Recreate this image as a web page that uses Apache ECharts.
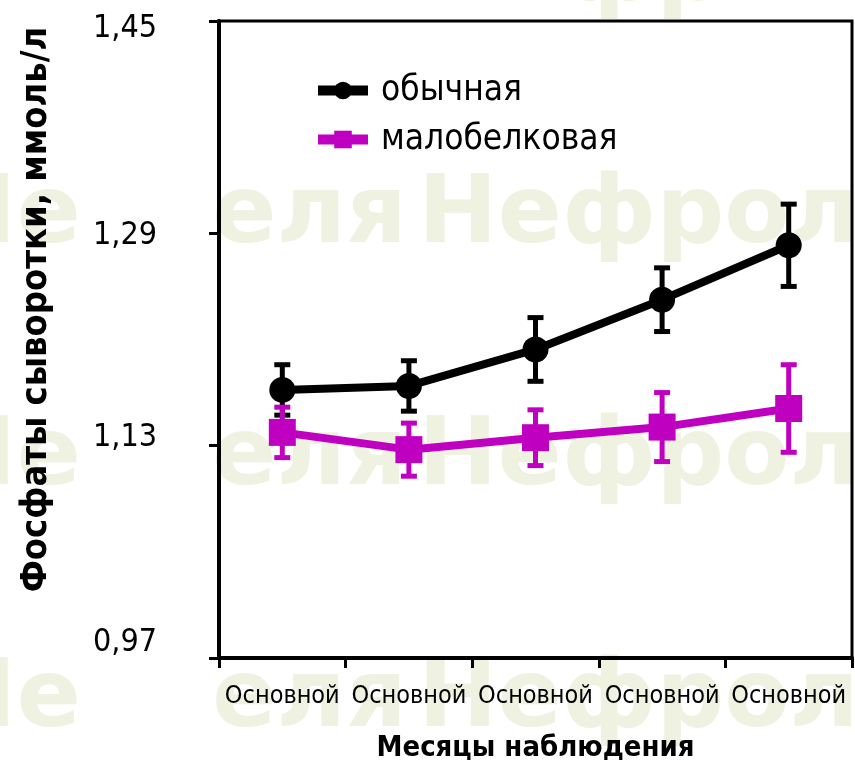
<!DOCTYPE html>
<html>
<head>
<meta charset="utf-8">
<script src="https://cdn.jsdelivr.net/npm/echarts@6/dist/echarts.min.js"></script>
<style>
html,body{margin:0;padding:0;background:#fff;}
#chart{width:855px;height:761px;}
</style>
</head>
<body>
<div id="chart"></div>
<script>
// ---- data ----
var categories = ['Основной', 'Основной', 'Основной', 'Основной', 'Основной'];
var seriesNames = ['обычная', 'малобелковая'];
var ordinaryMean = [1.172, 1.175, 1.2025, 1.240, 1.281];
var ordinaryErr  = [0.019, 0.019, 0.024, 0.024, 0.031];
var lowProteinMean = [1.140, 1.127, 1.136, 1.144, 1.158];
var lowProteinErr  = [0.019, 0.020, 0.021, 0.026, 0.033];
var yTickValues = [0.97, 1.13, 1.29, 1.45];
var yTickLabels = ['0,97', '1,13', '1,29', '1,45'];
var yTitle = 'Фосфаты сыворотки, ммоль/л';
var xTitle = 'Месяцы наблюдения';
var watermarkA = 'Не';
var watermarkB = 'еля';
var watermarkC = 'Нефрологии';

var FONT = "'Liberation Sans Narrow', 'Arial Narrow', 'DejaVu Sans Condensed', sans-serif";
var BLACK = '#000000';
var MAGENTA = '#c000c0';

function errData(mean, err) {
  return mean.map(function (m, i) { return [i, m, err[i]]; });
}

function makeErrRender(color) {
  return function (params, api) {
    var x = api.value(0), y = api.value(1), e = api.value(2);
    var top = api.coord([x, y + e]);
    var bot = api.coord([x, y - e]);
    var hw = 8;
    var style = { stroke: color, lineWidth: 5 };
    return {
      type: 'group',
      children: [
        { type: 'line', shape: { x1: top[0], y1: top[1], x2: bot[0], y2: bot[1] }, style: style },
        { type: 'line', shape: { x1: top[0] - hw, y1: top[1], x2: top[0] + hw, y2: top[1] }, style: style },
        { type: 'line', shape: { x1: bot[0] - hw, y1: bot[1], x2: bot[0] + hw, y2: bot[1] }, style: style }
      ]
    };
  };
}

var WM_FONT = "bold 95px 'DejaVu Sans', sans-serif";
var WM_COLOR = '#eff2e0';
var wmRows = [0, 243, 485, 727];
var wmElements = [];
wmRows.forEach(function (b) {
  [[watermarkA, -63], [watermarkB, 212], [watermarkC, 418]].forEach(function (p) {
    wmElements.push({ type: 'text', x: p[1], y: b + 22, z: -10, silent: true,
      style: { text: p[0], font: WM_FONT, fill: WM_COLOR, textVerticalAlign: 'bottom' } });
  });
});

// vertical nudges of the y tick labels as placed in the original figure
var yLabelRich = {
  l0: { padding: [0, 0, 30, 0] },
  l1: { padding: [0, 0, 16, 0] },
  l2: { padding: [4, 0, 0, 0] },
  l3: { padding: [16, 0, 0, 0] }
};

var chart = echarts.init(document.getElementById('chart'), null, { renderer: 'canvas' });
chart.setOption({
  animation: false,
  backgroundColor: '#ffffff',
  graphic: { z: -10, elements: wmElements },
  grid: {
    left: 219, right: 3, top: 21, bottom: 103,
    containLabel: false, outerBoundsMode: 'none',
    show: true, borderColor: '#000', borderWidth: 3, backgroundColor: 'transparent'
  },
  legend: {
    orient: 'vertical', left: 308, top: 68,
    itemWidth: 50, itemHeight: 22, itemGap: 14,
    data: seriesNames,
    lineStyle: { width: 10 },
    textStyle: { fontFamily: FONT, fontSize: 35, color: '#000', padding: [0, 0, 0, 8] }
  },
  xAxis: {
    type: 'category', data: categories, boundaryGap: true,
    axisLine: { lineStyle: { color: '#000', width: 4 } },
    axisTick: { show: true, length: 10, lineStyle: { color: '#000', width: 3 } },
    axisLabel: { interval: 0, margin: 26, color: '#000', fontFamily: FONT, fontSize: 25 },
    name: xTitle, nameLocation: 'middle', nameGap: 76,
    nameTextStyle: { fontFamily: FONT, fontWeight: 'bold', fontSize: 29, color: '#000' },
    splitLine: { show: false }
  },
  yAxis: {
    type: 'value', min: 0.97, max: 1.45,
    axisLine: { show: true, lineStyle: { color: '#000', width: 4 } },
    axisTick: { show: true, length: 10, customValues: yTickValues, lineStyle: { color: '#000', width: 3 } },
    axisLabel: {
      customValues: yTickValues, margin: 62, color: '#000', fontFamily: FONT, fontSize: 32,
      rich: {
        l0: { fontFamily: FONT, fontSize: 32, color: '#000', padding: [0, 0, 30, 0] },
        l1: { fontFamily: FONT, fontSize: 32, color: '#000', padding: [0, 0, 16, 0] },
        l2: { fontFamily: FONT, fontSize: 32, color: '#000', padding: [4, 0, 0, 0] },
        l3: { fontFamily: FONT, fontSize: 32, color: '#000', padding: [16, 0, 0, 0] }
      },
      formatter: function (v) {
        for (var i = 0; i < yTickValues.length; i++) {
          if (Math.abs(yTickValues[i] - v) < 1e-6) return '{l' + i + '|' + yTickLabels[i] + '}';
        }
        return '';
      }
    },
    splitLine: { show: false },
    name: yTitle, nameLocation: 'middle', nameGap: 164,
    nameTextStyle: { fontFamily: FONT, fontWeight: 'bold', fontSize: 36, color: '#000', padding: [0, 0, 0, 60] }
  },
  series: [
    {
      type: 'custom', name: seriesNames[0] + ' err', z: 2,
      renderItem: makeErrRender(BLACK),
      data: errData(ordinaryMean, ordinaryErr), encode: { x: 0, y: 1 }, silent: true
    },
    {
      type: 'line', name: seriesNames[0], data: ordinaryMean, z: 3,
      symbol: 'circle', symbolSize: 26,
      lineStyle: { color: BLACK, width: 8 }, itemStyle: { color: BLACK }
    },
    {
      type: 'custom', name: seriesNames[1] + ' err', z: 4,
      renderItem: makeErrRender(MAGENTA),
      data: errData(lowProteinMean, lowProteinErr), encode: { x: 0, y: 1 }, silent: true
    },
    {
      type: 'line', name: seriesNames[1], data: lowProteinMean, z: 5,
      symbol: 'rect', symbolSize: 27,
      lineStyle: { color: MAGENTA, width: 8 }, itemStyle: { color: MAGENTA }
    }
  ]
});
</script>
</body>
</html>
